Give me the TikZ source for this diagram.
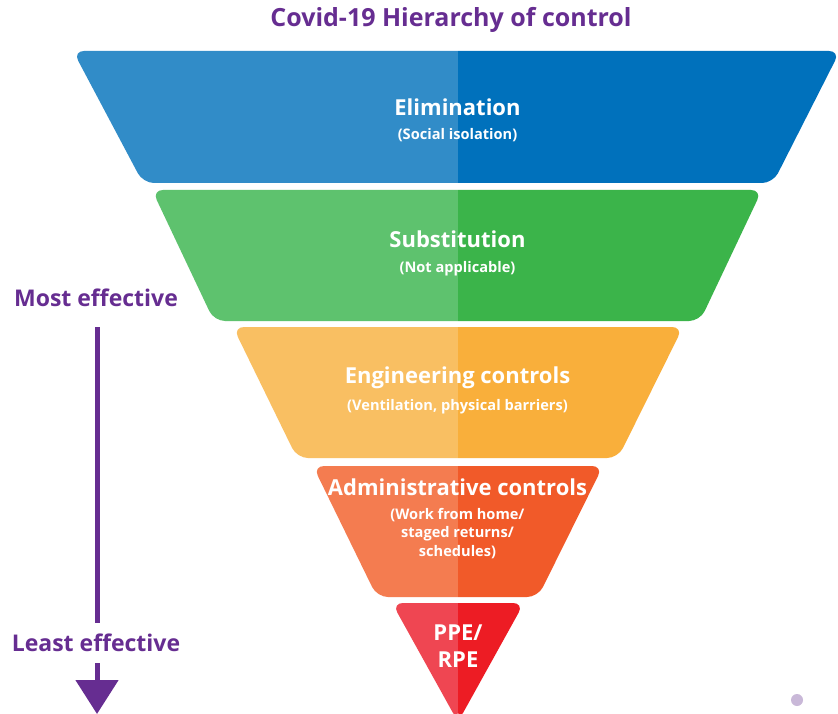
\documentclass[tikz,border=0pt]{standalone}
\usepackage{fontspec}
\setmainfont{Open Sans}
\usetikzlibrary{arrows.meta}
\definecolor{purp}{HTML}{662D91}
\definecolor{bluL}{HTML}{318CC8}
\definecolor{bluR}{HTML}{0071BC}
\definecolor{grnL}{HTML}{5EC26E}
\definecolor{grnR}{HTML}{3BB44A}
\definecolor{orgL}{HTML}{F9BF62}
\definecolor{orgR}{HTML}{F9AF3B}
\definecolor{admL}{HTML}{F47C50}
\definecolor{admR}{HTML}{F15A29}
\definecolor{redL}{HTML}{EF4652}
\definecolor{redR}{HTML}{ED1C24}
\definecolor{dotc}{HTML}{C9B8D8}
\tikzset{
  head/.style={text=white,font=\bfseries\fontsize{22}{24}\selectfont,inner sep=0pt},
  sub/.style={text=white,font=\bfseries\fontsize{14.6}{18.5}\selectfont,inner sep=0pt,align=center},
  side/.style={text=purp,font=\bfseries\fontsize{23}{26}\selectfont},
  ttl/.style={text=purp,font=\bfseries\fontsize{25}{28}\selectfont,inner sep=0pt},
}
\newcommand{\band}[6]{%
  \begin{scope}
    \clip[rounded corners=11pt] #1 -- #2 -- #3 -- #4 -- cycle;
    \fill[#5] (0,0) rectangle (457.5,714);
    \fill[#6] (457.5,0) rectangle (838,714);
  \end{scope}}
\begin{document}
\begin{tikzpicture}[x=1pt,y=-1pt]
\useasboundingbox (0,0) rectangle (838,714);
\fill[white] (0,0) rectangle (838,714);
% bands
\band{(73,51)}{(840,51)}{(773,183)}{(143,183)}{bluL}{bluR}
\band{(152,190)}{(762,190)}{(700,321)}{(214,321)}{grnL}{grnR}
\band{(233,327)}{(683,327)}{(618,458)}{(297,458)}{orgL}{orgR}
\band{(313,466)}{(603,466)}{(538,597)}{(377,597)}{admL}{admR}
\begin{scope}
  \clip (0,0) rectangle (838,714);
  \band{(392,603)}{(524,603)}{(458,722)}{(458,722)}{redL}{redR}
\end{scope}
% title
\node[ttl] (title) at (451,20) {Covid-19 Hierarchy of control};
% texts
\node[head] (elim) at (457.5,107) {Elimination};
\node[sub] (elimS) at (457.5,135.5) {(Social isolation)};
\node[head] (subst) at (457.5,239) {Substitution};
\node[sub] (substS) at (457.5,268.5) {(Not applicable)};
\node[head] (eng) at (457.5,377.5) {Engineering controls};
\node[sub] (engS) at (457.5,406.5) {(Ventilation, physical barriers)};
\node[head] (adm) at (457.5,487.5) {Administrative controls};
\node[sub] (admS) at (457.5,533.5) {(Work from home/\\staged returns/\\schedules)};
\node[head,align=center,font=\bfseries\fontsize{22}{27}\selectfont] (ppe) at (458,646) {PPE/\\RPE};
% side arrow
\node[side,inner sep=0pt] (most) at (96,298) {Most effective};
\coordinate (atop) at (97,327);
\coordinate (abot) at (97,714);
\draw[purp,line width=5pt,-{Triangle[width=42pt,length=34pt]}] (atop) -- (abot);
\node[side,fill=white,minimum width=188pt,minimum height=40pt,inner sep=0pt] (least) at (96,643) {Least effective};
% dot
\fill[dotc] (797,700) circle (6);
\end{tikzpicture}
\end{document}
